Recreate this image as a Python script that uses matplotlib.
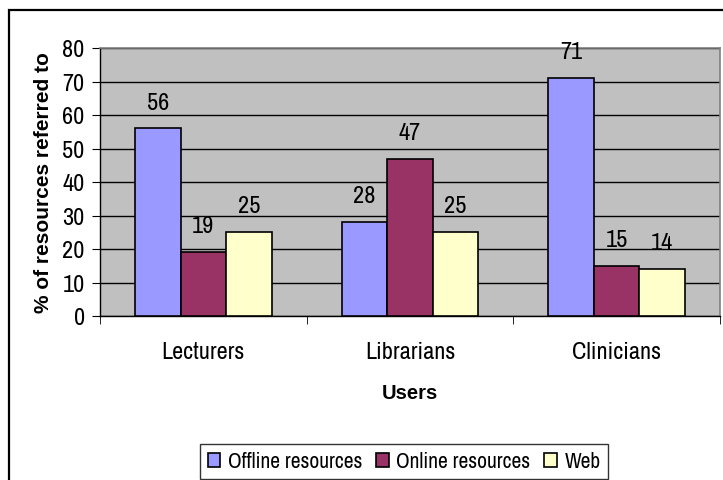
import matplotlib
matplotlib.use("Agg")
import matplotlib.pyplot as plt
import numpy as np
from matplotlib.patches import Rectangle
from matplotlib import font_manager

names = {f.name for f in font_manager.fontManager.ttflist}
FONT = "Liberation Sans"
for cand in ["Liberation Sans Narrow", "Arial Narrow", "Archivo Narrow", "PT Sans Narrow",
             "Roboto Condensed", "Pragati Narrow"]:
    if cand in names:
        FONT = cand
        break
plt.rcParams['font.family'] = [FONT, 'DejaVu Sans']

categories = ["Lecturers", "Librarians", "Clinicians"]
series_names = ["Offline resources", "Online resources", "Web"]
offline = [56, 28, 71]
online = [19, 47, 15]
web = [25, 25, 14]
yticks = [0, 10, 20, 30, 40, 50, 60, 70, 80]
colors = ["#9999FF", "#993366", "#FFFFCC"]

FS = 17.5

fig = plt.figure(figsize=(7.23, 4.81), dpi=100)
ax = fig.add_axes([100/723, 1-317/481, 620/723, 268/481])
ax.set_facecolor("#C0C0C0")

x = np.arange(len(categories))
w = 0.22
for i, (vals, name, c) in enumerate(zip([offline, online, web], series_names, colors)):
    pos = x + (i - 1) * w
    ax.bar(pos, vals, width=w, color=c, edgecolor="black", linewidth=1.2,
           label=name, zorder=3)
    for p, v in zip(pos, vals):
        ax.annotate(str(v), (p, v), xytext=(0, 19), textcoords="offset points",
                    ha="center", va="center", fontsize=FS, zorder=4)

ax.set_ylim(0, 80)
ax.set_xlim(-0.5, 2.5)
ax.set_yticks(yticks)
ax.set_yticklabels([str(t) for t in yticks], fontsize=FS)
ax.set_xticks(x)
ax.set_xticklabels(categories, fontsize=FS)
ax.set_xticks([-0.5, 0.5, 1.5, 2.5], minor=True)
ax.tick_params(axis="x", which="major", length=0, pad=18)
ax.tick_params(axis="x", which="minor", length=6, direction="out", color="black")
ax.tick_params(axis="y", length=6, direction="out", color="black", pad=5)
ax.yaxis.grid(True, color="black", linewidth=1, zorder=0)
ax.set_axisbelow(True)
for s in ["top", "right"]:
    ax.spines[s].set_color("#808080")
    ax.spines[s].set_linewidth(1.2)
for s in ["left", "bottom"]:
    ax.spines[s].set_color("black")
    ax.spines[s].set_linewidth(1)

ax.set_xlabel("Users", fontsize=14.5, fontweight="bold", labelpad=15,
              family=["Liberation Sans", "DejaVu Sans"])
ax.set_ylabel("% of resources referred to", fontsize=15, fontweight="bold", labelpad=7,
              family=["Liberation Sans", "DejaVu Sans"])

leg = fig.legend(loc="lower left", bbox_to_anchor=(200/723, 1-480/481, 408/723, 42/481),
                 mode="expand", ncol=3, fontsize=15.5, frameon=True, fancybox=False,
                 handlelength=0.6, handleheight=0.6, handletextpad=0.35,
                 columnspacing=0.5, borderpad=0.35, borderaxespad=0)
leg.get_frame().set_edgecolor("black")
leg.get_frame().set_linewidth(1)

border = Rectangle((9/723, -0.1), 1.2, 1 - 11/481 + 0.1, transform=fig.transFigure,
                   fill=False, edgecolor="black", linewidth=1.6, zorder=10)
fig.patches.append(border)

fig.savefig("out.png", dpi=100)
